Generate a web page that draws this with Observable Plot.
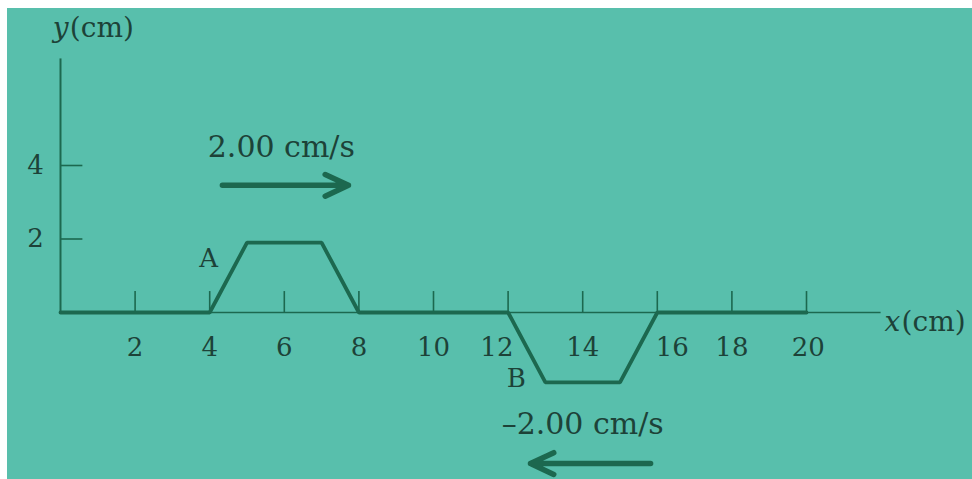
<!DOCTYPE html>
<html>
<head>
<meta charset="utf-8">
<script src="https://cdn.jsdelivr.net/npm/d3@7"></script>
<script src="https://cdn.jsdelivr.net/npm/@observablehq/plot@0.6"></script>
<style>
  html, body { margin: 0; padding: 0; background: #ffffff; }
  #chart { position: absolute; left: 7px; top: 8px; }
</style>
</head>
<body>
<div id="chart"></div>
<script>
// Wave string shape (x in cm, y in cm)
const waveX = [0, 4, 5, 7, 8, 12, 13, 15, 16, 20];
const waveY = [0, 0, 1.9, 1.9, 0, 0, -1.9, -1.9, 0, 0];
// Axis ticks and labels
const xTicks = [2, 4, 6, 8, 10, 12, 14, 16, 18, 20];
const xTickLabels = ["2", "4", "6", "8", "10", "12", "14", "16", "18", "20"];
const xTickLabelPos = [2, 4, 6, 8, 10, 11.7, 14, 16.4, 18, 20.05];
const yTicks = [2, 4];
const yTickLabels = ["2", "4"];
const xAxisEnd = 22;
const yAxisTop = 6.9;
// Pulse labels
const pulseNames = ["A", "B"];
const pulseLabelX = [3.97, 12.22];
const pulseLabelY = [1.47, -1.8];
// Velocity labels and arrows
const velText = ["2.00 cm/s", "\u20132.00 cm/s"];
const velTextX = [5.92, 14.0];
const velTextY = [4.49, -3.05];
const arrowX1 = [4.34, 15.82];
const arrowX2 = [7.72, 12.6];
const arrowY = [3.46, -4.11];

const wave = waveX.map((x, i) => ({x, y: waveY[i]}));
const xLabels = xTickLabels.map((t, i) => ({t, x: xTickLabelPos[i]}));
const yLabels = yTickLabels.map((t, i) => ({t, y: yTicks[i]}));
const pulses = pulseNames.map((t, i) => ({t, x: pulseLabelX[i], y: pulseLabelY[i]}));
const vels = velText.map((t, i) => ({t, x: velTextX[i], y: velTextY[i], x1: arrowX1[i], x2: arrowX2[i], ay: arrowY[i]}));

const lineColor = "#1c684f";
const textColor = "#1d4238";
const font = "DejaVu Serif";

const chart = Plot.plot({
  width: 965,
  height: 471,
  style: {background: "#58bfac", fontFamily: font, fontSize: "26px", color: textColor},
  x: {domain: [0, 20], range: [53, 799], axis: null},
  y: {domain: [0, 4], range: [304, 157], axis: null},
  marks: [
    // x axis thin line
    Plot.ruleY([0], {x1: 0, x2: xAxisEnd, stroke: lineColor, strokeWidth: 1.6}),
    // y axis line
    Plot.ruleX([0], {y1: 0, y2: yAxisTop, stroke: lineColor, strokeWidth: 2}),
    // x ticks (upward)
    Plot.ruleX(xTicks, {y1: 0, y2: 0.57, stroke: lineColor, strokeWidth: 1.6}),
    // y ticks (rightward)
    Plot.ruleY(yTicks, {x1: 0, x2: 0.6, stroke: lineColor, strokeWidth: 1.6}),
    // wave string
    Plot.line(wave, {x: "x", y: "y", stroke: lineColor, strokeWidth: 3.8, strokeLinejoin: "miter"}),
    // tick labels
    Plot.text(xLabels, {x: "x", y: -0.95, text: "t", fill: textColor, fontSize: 26}),
    Plot.text(yLabels, {x: -0.67, y: "y", text: "t", fill: textColor, fontSize: 26}),
    // axis titles
    Plot.text([{x: -0.21, y: 7.73}], {x: "x", y: "y", text: () => "y", fill: textColor, fontSize: 28, fontStyle: "italic", textAnchor: "start"}),
    Plot.text([{x: 0.25, y: 7.73}], {x: "x", y: "y", text: () => "(cm)", fill: textColor, fontSize: 28, textAnchor: "start"}),
    Plot.text([{x: 22.09, y: -0.27}], {x: "x", y: "y", text: () => "x", fill: textColor, fontSize: 28, fontStyle: "italic", textAnchor: "start"}),
    Plot.text([{x: 22.55, y: -0.27}], {x: "x", y: "y", text: () => "(cm)", fill: textColor, fontSize: 28, textAnchor: "start"}),
    // pulse names
    Plot.text(pulses, {x: "x", y: "y", text: "t", fill: textColor, fontSize: 26}),
    // velocity texts
    Plot.text(vels, {x: "x", y: "y", text: "t", fill: textColor, fontSize: 30}),
    // velocity arrows
    Plot.arrow(vels, {x1: "x1", x2: "x2", y1: "ay", y2: "ay", stroke: lineColor, strokeWidth: 5.5, headLength: 7, headAngle: 50})
  ]
});
document.getElementById("chart").appendChild(chart);
</script>
</body>
</html>
